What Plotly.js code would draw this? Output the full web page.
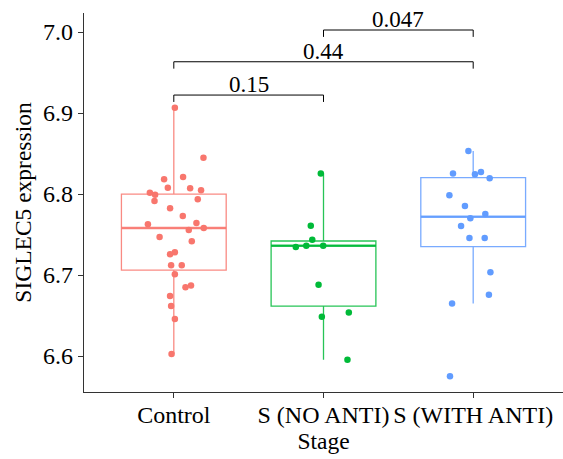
<!DOCTYPE html>
<html>
<head>
<meta charset="utf-8">
<script src="https://cdn.plot.ly/plotly-3.0.1.min.js"></script>
<style>html,body{margin:0;padding:0;background:#fff;}#chart{width:563px;height:459px;}</style>
</head>
<body>
<div id="chart"></div>
<script>
// ---- data ----
const categories = ["Control", "S (NO ANTI)", "S (WITH ANTI)"];
const colors = ["#F8766D", "#00BA38", "#619CFF"];

// jittered points: values and horizontal jitter offsets
const controlValues = [6.9066,6.8448,6.8181,6.821,6.8078,6.807,6.8046,6.8016,6.7992,6.7914,6.7935,6.7823,6.7728,6.7626,6.7642,6.7556,6.7580,6.7469,6.7416,6.7256,6.7280,6.7120,6.7120,6.7009,6.6848,6.6872,6.6741,6.6617,6.6457,6.6025];
const controlJitter = [0.007,0.198,-0.065,0.062,-0.040,0.109,0.182,-0.160,-0.125,-0.129,0.160,-0.025,0.060,-0.173,0.151,0.100,0.200,-0.095,0.120,-0.025,0.007,-0.018,0.053,0.007,0.078,0.115,-0.025,-0.018,0.007,-0.015];
const noAntiValues = [6.8255,6.7609,6.7436,6.7346,6.7362,6.7362,6.6881,6.6485,6.6539,6.5954];
const noAntiJitter = [-0.018,-0.085,-0.075,-0.185,-0.115,-0.002,-0.033,-0.011,0.169,0.160];
const withAntiValues = [6.8531,6.8255,6.8243,6.8272,6.8194,6.7984,6.7852,6.7753,6.7700,6.7605,6.7457,6.7457,6.7033,6.6757,6.6650,6.5749];
const withAntiJitter = [-0.032,-0.135,0.012,0.052,0.110,-0.159,-0.055,0.081,-0.019,-0.081,-0.025,0.077,0.115,0.105,-0.141,-0.155];

// box statistics
const boxQ1 = [6.706, 6.6617, 6.735];
const boxMedian = [6.758, 6.7362, 6.772];
const boxQ3 = [6.800, 6.742, 6.8202];
const boxLower = [6.6025, 6.5954, 6.665];
const boxUpper = [6.9066, 6.8255, 6.8531];

// pairwise comparison brackets
const bracketFrom = [1, 1, 2];
const bracketTo = [2, 3, 3];
const bracketY = [6.9222, 6.9633, 7.0025];
const bracketLabels = ["0.15", "0.44", "0.047"];

const yTicks = [6.6, 6.7, 6.8, 6.9, 7.0];

// ---- styling ----
const FONT = "Liberation Serif, Times New Roman, serif";
const BOXW = 0.7;
const TICKDROP = 0.0085;
const boxLine = ["rgba(248,118,109,0.85)", "rgba(0,186,56,0.85)", "rgba(97,156,255,0.85)"];

const groups = [
  {v: controlValues, j: controlJitter},
  {v: noAntiValues, j: noAntiJitter},
  {v: withAntiValues, j: withAntiJitter}
];

const traces = [];
for (let i = 0; i < 3; i++) {
  traces.push({
    type: "box", x: [i + 1],
    q1: [boxQ1[i]], median: [boxMedian[i]], q3: [boxQ3[i]],
    lowerfence: [boxLower[i]], upperfence: [boxUpper[i]],
    width: BOXW, whiskerwidth: 0,
    line: {color: boxLine[i], width: 1.3},
    fillcolor: "rgba(255,255,255,0)",
    boxpoints: false, hoverinfo: "skip", showlegend: false
  });
  traces.push({
    type: "scatter", mode: "lines",
    x: [i + 1 - BOXW / 2, i + 1 + BOXW / 2], y: [boxMedian[i], boxMedian[i]],
    line: {color: boxLine[i], width: 2.6}, hoverinfo: "skip", showlegend: false
  });
}
groups.forEach((g, i) => {
  traces.push({
    type: "scatter", mode: "markers",
    x: g.j.map(d => i + 1 + d), y: g.v,
    marker: {color: colors[i], size: 6.5, line: {width: 0}},
    showlegend: false, hoverinfo: "y"
  });
});
const annotations = [];
for (let k = 0; k < bracketY.length; k++) {
  traces.push({
    type: "scatter", mode: "lines",
    x: [bracketFrom[k], bracketFrom[k], bracketTo[k], bracketTo[k]],
    y: [bracketY[k] - TICKDROP, bracketY[k], bracketY[k], bracketY[k] - TICKDROP],
    line: {color: "#000", width: 1}, hoverinfo: "skip", showlegend: false
  });
  annotations.push({
    x: (bracketFrom[k] + bracketTo[k]) / 2, y: bracketY[k],
    xref: "x", yref: "y", text: bracketLabels[k], showarrow: false,
    yanchor: "bottom", yshift: -4,
    font: {family: FONT, size: 23, color: "#000"}
  });
}

const layout = {
  width: 563, height: 459,
  margin: {l: 84, r: 0, t: 13, b: 67, pad: 0},
  paper_bgcolor: "#fff", plot_bgcolor: "#fff",
  font: {family: FONT, size: 24, color: "#000"},
  showlegend: false,
  xaxis: {
    type: "linear", range: [0.4, 3.6],
    tickmode: "array", tickvals: [1, 2, 3], ticktext: categories,
    ticks: "outside", ticklen: 5, tickwidth: 1, tickcolor: "#333",
    showline: true, linecolor: "#333", linewidth: 1.2,
    showgrid: false, zeroline: false,
    ticklabelstandoff: -4,
    tickfont: {family: FONT, size: 24, color: "#000"},
    title: {text: "Stage", font: {family: FONT, size: 23.5, color: "#000"}, standoff: 5}
  },
  yaxis: {
    range: [6.5556, 7.0235],
    tickmode: "array", tickvals: yTicks, ticktext: yTicks.map(v => v.toFixed(1)),
    ticks: "outside", ticklen: 5, tickwidth: 1, tickcolor: "#333",
    showline: true, linecolor: "#333", linewidth: 1.2,
    showgrid: false, zeroline: false,
    tickfont: {family: FONT, size: 24, color: "#000"},
    title: {text: "SIGLEC5 expression", font: {family: FONT, size: 23.5, color: "#000"}, standoff: 4}
  },
  annotations: annotations
};

Plotly.newPlot("chart", traces, layout, {displayModeBar: false, staticPlot: true});
</script>
</body>
</html>
